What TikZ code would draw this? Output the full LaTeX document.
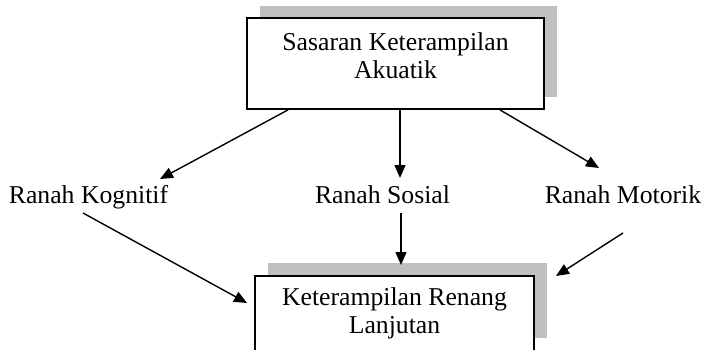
\documentclass[tikz,border=0pt]{standalone}
\usepackage{fontspec}
\setmainfont{Liberation Serif}
\usetikzlibrary{arrows.meta}
\definecolor{shadowgray}{RGB}{192,192,192}
\tikzset{
  box/.style={draw=black, line width=1.8pt, fill=white, inner sep=0pt},
  shadowbox/.style={fill=shadowgray, draw=none, inner sep=0pt},
  lbl/.style={font=\fontsize{25.7}{28}\selectfont, inner sep=0pt, anchor=base},
  boxtxt/.style={font=\fontsize{25.7}{28}\selectfont, inner sep=0pt, align=center, anchor=base},
  arr/.style={line width=1.4pt, -{Triangle[length=13pt,width=11pt]}},
}
\begin{document}
\begin{tikzpicture}[x=1pt,y=-1pt]
\clip (0,0) rectangle (705,349);
\fill[white] (0,0) rectangle (705,349);
% top box
\node[shadowbox, minimum width=297pt, minimum height=91pt] (topsh) at (408.5,51.5) {};
\node[box, minimum width=297pt, minimum height=91pt] (top) at (395.5,63.5) {};
\node[boxtxt] (topt) at (395.5,78) {Sasaran Keterampilan\\Akuatik};
% bottom box
\node[shadowbox, minimum width=279pt, minimum height=75pt] (botsh) at (407.5,300.5) {};
\node[box, minimum width=279pt, minimum height=75pt] (bot) at (394.5,313.5) {};
\node[boxtxt] (bott) at (394.5,333) {Keterampilan Renang\\Lanjutan};
% labels
\node[lbl] (kog) at (88.5,203) {Ranah Kognitif};
\node[lbl] (sos) at (382.5,203) {Ranah Sosial};
\node[lbl] (mot) at (623,203) {Ranah Motorik};
% connector points
\coordinate (t1) at (160,179);
\coordinate (t2) at (400,178);
\coordinate (t3) at (599,168);
\coordinate (k1) at (83,213);
\coordinate (k2) at (247,303);
\coordinate (s1) at (401,213);
\coordinate (s2) at (401,265);
\coordinate (m1) at (623,233);
\coordinate (m2) at (556,276);
\draw[arr] ([xshift=-107.5pt]top.south) -- (t1);
\draw[arr] ([xshift=4.5pt]top.south) -- (t2);
\draw[arr] ([xshift=104.5pt]top.south) -- (t3);
\draw[arr] (k1) -- (k2);
\draw[arr] (s1) -- (s2);
\draw[arr] (m1) -- (m2);
\end{tikzpicture}
\end{document}
